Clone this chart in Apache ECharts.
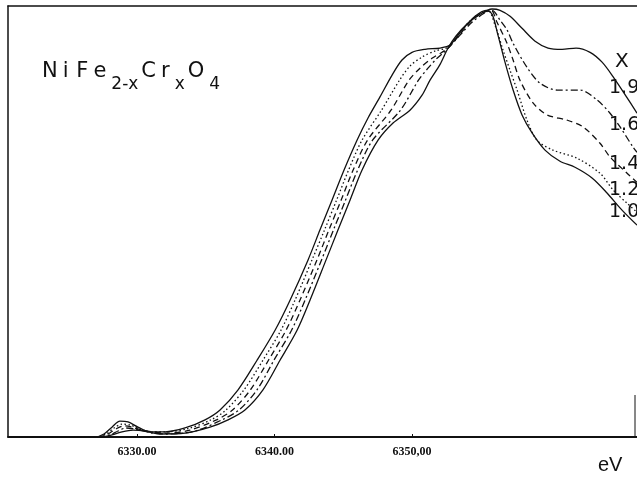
<!DOCTYPE html>
<html>
<head>
<meta charset="utf-8">
<script src="https://cdn.jsdelivr.net/npm/echarts@6/dist/echarts.min.js"></script>
<style>html,body{margin:0;padding:0;background:#fff}#c{width:637px;height:478px}</style>
</head>
<body>
<div id="c"></div>
<script>
// ---- data (energy in eV, normalized absorption) ----
const tickValues = [6330, 6340, 6350];
const tickLabels = ['6330.00', '6340.00', '6350,00'];
const seriesNames = ['1.9', '1.6', '1.4', '1.2', '1.0'];

const e10 = [6320.62, 6326.95, 6327.60, 6328.18, 6328.76, 6329.35, 6330.07, 6330.95, 6332.04, 6333.49, 6334.95, 6336.04, 6337.35, 6338.73, 6340.04, 6341.13, 6342.44, 6343.31, 6344.18, 6345.05, 6346.00, 6346.80, 6347.67, 6348.55, 6349.27, 6350.00, 6350.95, 6352.04, 6352.76, 6353.64, 6354.58, 6355.38, 6355.82, 6356.25, 6356.76, 6357.35, 6358.00, 6358.73, 6359.67, 6360.76, 6361.85, 6363.09, 6364.18, 6365.27, 6366.36];
const v10 = [0, 0, .007, .023, .037, .035, .023, .012, .012, .021, .040, .063, .110, .179, .249, .319, .413, .483, .552, .622, .692, .744, .793, .844, .879, .897, .904, .907, .914, .949, .981, .995, .986, .937, .874, .809, .751, .709, .669, .643, .629, .604, .569, .529, .494];

const e12 = [6320.62, 6327.09, 6327.75, 6328.33, 6328.91, 6329.49, 6330.22, 6331.02, 6332.11, 6333.64, 6335.38, 6336.47, 6337.78, 6339.16, 6340.47, 6341.49, 6342.73, 6343.64, 6344.51, 6345.38, 6346.36, 6347.78, 6349.09, 6349.85, 6350.73, 6351.67, 6352.62, 6353.49, 6354.22, 6354.95, 6355.53, 6356.04, 6356.62, 6357.13, 6357.64, 6358.36, 6359.09, 6360.25, 6362.00, 6363.67, 6364.62, 6365.64, 6366.36];
const v12 = [0, 0, .007, .021, .030, .028, .019, .012, .012, .019, .040, .063, .110, .179, .249, .319, .413, .483, .552, .622, .692, .762, .832, .865, .886, .900, .909, .942, .970, .988, .995, .960, .902, .855, .809, .739, .692, .669, .650, .615, .576, .545, .524];

const e14 = [6320.62, 6327.16, 6327.89, 6328.47, 6329.05, 6329.64, 6330.36, 6331.09, 6332.18, 6333.85, 6335.78, 6336.95, 6338.25, 6339.56, 6340.84, 6341.85, 6343.09, 6343.96, 6344.84, 6345.71, 6346.76, 6348.47, 6349.78, 6350.58, 6351.45, 6352.18, 6352.69, 6353.49, 6354.36, 6355.09, 6355.75, 6356.18, 6356.91, 6357.35, 6357.85, 6358.80, 6359.82, 6361.27, 6362.44, 6363.67, 6364.40, 6365.64, 6366.36];
const v14 = [0, 0, .007, .019, .026, .023, .016, .012, .009, .016, .040, .063, .110, .179, .249, .319, .413, .483, .552, .622, .692, .762, .832, .860, .883, .897, .909, .939, .972, .988, .995, .967, .918, .879, .832, .779, .751, .739, .723, .685, .653, .615, .594];

const e16 = [6320.62, 6327.24, 6328.04, 6328.62, 6329.20, 6329.78, 6330.51, 6331.16, 6332.25, 6334.22, 6336.18, 6337.42, 6338.73, 6339.96, 6341.24, 6342.22, 6343.42, 6344.29, 6345.16, 6346.04, 6347.13, 6349.16, 6350.47, 6351.16, 6351.82, 6352.33, 6352.69, 6353.49, 6354.36, 6355.24, 6355.82, 6356.40, 6356.91, 6357.35, 6358.36, 6359.31, 6360.55, 6362.22, 6363.45, 6364.40, 6365.13, 6366.07, 6366.36];
const v16 = [0, 0, .005, .014, .021, .019, .014, .009, .007, .014, .040, .063, .110, .179, .249, .319, .413, .483, .552, .622, .692, .762, .832, .860, .883, .897, .909, .937, .967, .988, .995, .972, .949, .918, .862, .825, .809, .809, .786, .755, .723, .676, .664];

const e19 = [6320.62, 6327.31, 6328.18, 6328.91, 6329.71, 6330.58, 6331.67, 6333.49, 6335.31, 6336.62, 6337.85, 6339.16, 6340.40, 6341.64, 6342.58, 6343.75, 6344.62, 6345.49, 6346.36, 6347.53, 6348.62, 6349.85, 6350.73, 6351.31, 6352.04, 6352.62, 6353.20, 6354.00, 6354.95, 6355.82, 6356.40, 6357.13, 6358.00, 6358.95, 6359.89, 6360.91, 6361.93, 6362.95, 6363.82, 6364.69, 6365.56, 6366.36];
const v19 = [0, 0, .005, .012, .016, .014, .007, .009, .023, .040, .063, .110, .179, .249, .319, .413, .483, .552, .622, .692, .732, .762, .797, .832, .869, .907, .935, .963, .986, .998, .995, .981, .953, .923, .907, .904, .907, .897, .874, .837, .795, .755];

// ---- build ----
const zip = (e, v) => e.map((x, i) => [x, v[i]]);
const curves = [
  { e: e19, v: v19, dash: 'solid' },
  { e: e16, v: v16, dash: [7, 3, 2, 3] },
  { e: e14, v: v14, dash: [6, 4] },
  { e: e12, v: v12, dash: [1.5, 2.5] },
  { e: e10, v: v10, dash: 'solid' }
];

const chart = echarts.init(document.getElementById('c'), null, { renderer: 'canvas' });
const ink = '#111';
const labelTops = [79, 116, 155, 181, 203];
const xMin = 6320.62, xMax = 6366.36;

const M = { fontFamily: 'DejaVu Sans', fontSize: 21, lineHeight: 24, verticalAlign: 'top', padding: [0, 5, 0, 0], fill: ink };
const S = { fontFamily: 'DejaVu Sans', fontSize: 17, lineHeight: 17, padding: [15, 3, 0, 0], verticalAlign: 'top', fill: ink };

chart.setOption({
  animation: false,
  backgroundColor: '#fff',
  grid: { left: 8, right: 0, top: 6, bottom: 41, containLabel: false },
  xAxis: [{
    type: 'value', min: xMin, max: xMax, position: 'bottom',
    axisLine: { show: true, onZero: false, lineStyle: { color: ink, width: 1.8 } },
    axisTick: { show: true, inside: true, length: 3, customValues: tickValues, lineStyle: { color: ink } },
    axisLabel: {
      customValues: tickValues,
      formatter: v => tickLabels[tickValues.indexOf(Math.round(v))] || '',
      margin: 9, color: ink, fontFamily: 'Liberation Serif', fontWeight: 'bold', fontSize: 12
    },
    splitLine: { show: false }
  }, {
    type: 'value', min: xMin, max: xMax, position: 'top',
    axisLine: { show: true, onZero: false, lineStyle: { color: ink, width: 1.5 } },
    axisTick: { show: false }, axisLabel: { show: false }, splitLine: { show: false }
  }],
  yAxis: {
    type: 'value', min: 0, max: 1.005,
    axisLine: { show: true, onZero: false, lineStyle: { color: ink, width: 1.5 } },
    axisTick: { show: false }, axisLabel: { show: false }, splitLine: { show: false }
  },
  series: curves.map((c, i) => ({
    name: seriesNames[i],
    type: 'line',
    data: zip(c.e, c.v),
    showSymbol: false,
    smooth: 0.3,
    clip: true,
    lineStyle: { color: ink, width: 1.3, type: c.dash }
  })),
  graphic: [
    {
      type: 'text', left: 42, top: 61,
      style: {
        text: '{m|N}{m|i}{g| }{m|F}{m|e}{s|2-x}{m|C}{m|r}{s|x}{m|O}{s|4}',
        rich: {
          m: M, g: { fontSize: 10, lineHeight: 24, verticalAlign: 'top' }, s: S
        }
      }
    },
    { type: 'text', left: 598, top: 455, style: { text: 'eV', fontFamily: 'Liberation Sans', fontSize: 20, fill: ink } },
    { type: 'text', left: 615, top: 52, style: { text: 'X', fontFamily: 'DejaVu Sans', fontSize: 20, fill: ink } }
  ].concat(seriesNames.map((n, i) => ({
    type: 'text', left: 609, top: labelTops[i],
    style: { text: n, fontFamily: 'DejaVu Sans', fontSize: 19, fill: ink }
  }))).concat([
    { type: 'line', shape: { x1: 635, y1: 395, x2: 635, y2: 437 }, style: { stroke: ink, lineWidth: 1 } }
  ])
});
</script>
</body>
</html>
